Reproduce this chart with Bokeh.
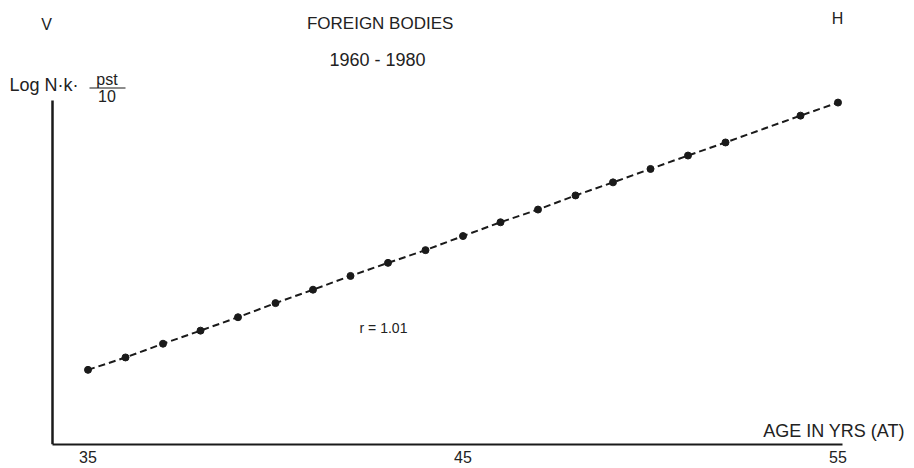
from bokeh.plotting import figure
from bokeh.models import Label, Arrow, FixedTicker
from bokeh.embed import file_html
from bokeh.resources import INLINE

# ---- data ----
ages = [35, 36, 37, 38, 39, 40, 41, 42, 43, 44, 45, 46, 47, 48, 49, 50, 51, 52, 54, 55]
log_values = [2.17, 2.53, 2.93, 3.31, 3.70, 4.11, 4.50, 4.90, 5.28, 5.65,
              6.06, 6.46, 6.83, 7.24, 7.62, 8.01, 8.40, 8.78, 9.56, 9.94]
x_ticks = [35, 45, 55]
x_tick_labels = {35: "35", 45: "45", 55: "55"}

title_text = "FOREIGN  BODIES"
subtitle_text = "1960 - 1980"
x_title = "AGE  IN YRS (AT)"
r_text = "r = 1.01"

# ---- layout (page px == figure px, Bokeh page has no body margin) ----
W, H = 914, 468
FB = 444                    # frame bottom = x-axis line
PX_PER_YEAR = 37.5
PX_PER_UNIT = 34.4
X0 = 35 - 87.5 / PX_PER_YEAR
X1 = X0 + W / PX_PER_YEAR
Y0 = 0.0
Y1 = FB / PX_PER_UNIT
FONT = "Liberation Sans"
INK = "#1a1a1a"
TXT = "#222222"


def dx(px):
    return X0 + px / PX_PER_YEAR


def dy(py):
    return (FB - py) / PX_PER_UNIT


p = figure(width=W, height=H, x_range=(X0, X1), y_range=(Y0, Y1),
           output_backend="svg", toolbar_location=None,
           min_border_left=0, min_border_right=0,
           min_border_top=0, min_border_bottom=H - FB)
p.outline_line_color = None
p.grid.visible = False
p.background_fill_color = "white"
p.border_fill_color = "white"

xa = p.xaxis[0]
xa.ticker = FixedTicker(ticks=x_ticks)
xa.major_label_overrides = x_tick_labels
xa.bounds = (dx(51.5), dx(842))
xa.major_tick_line_color = None
xa.minor_tick_line_color = None
xa.major_tick_out = 0
xa.major_tick_in = 0
xa.minor_tick_out = 0
xa.axis_line_width = 2
xa.axis_line_color = INK
xa.major_label_text_font = FONT
xa.major_label_text_font_size = "16px"
xa.major_label_text_color = TXT
xa.major_label_standoff = 6

ya = p.yaxis[0]
ya.ticker = FixedTicker(ticks=[])
ya.fixed_location = dx(51.5)
ya.bounds = (0, dy(100))
ya.major_tick_line_color = None
ya.minor_tick_line_color = None
ya.major_tick_out = 0
ya.major_tick_in = 0
ya.minor_tick_out = 0
ya.major_label_standoff = 0
ya.axis_line_width = 2.5
ya.axis_line_color = INK

p.line(ages, log_values, line_dash="7 4", line_width=2, color=INK)
p.scatter(ages, log_values, size=7, color=INK)


def lab(text, px, py, size, align="center", baseline="middle"):
    p.add_layout(Label(x=dx(px), y=dy(py), text=text, text_font=FONT,
                       text_font_size=size, text_color=TXT,
                       text_align=align, text_baseline=baseline))


lab("V", 46, 24, "16px")
lab(title_text, 382, 23, "17px")
lab(subtitle_text, 377, 59, "18px")
lab("H", 837, 18, "16px")
lab(x_title, 836, 430, "18px")
lab(r_text, 383, 327, "14px")

# y-axis title: Log N·k·(pst/10)
lab("Log N·k·", 9, 84, "18px", align="left")
lab("pst", 106.5, 79, "16px")
lab("10", 106.5, 95, "16px")
p.add_layout(Arrow(x_start=dx(89), y_start=dy(87.5), x_end=dx(125), y_end=dy(87.5),
                   start=None, end=None, line_width=1.2, line_color=INK))

open("out.html", "w").write(file_html(p, INLINE))
